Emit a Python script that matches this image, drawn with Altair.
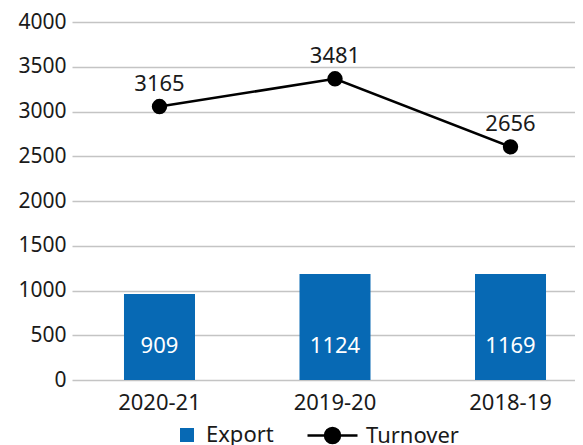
import altair as alt
import pandas as pd

periods = ["2020-21", "2019-20", "2018-19"]
export_values = [960, 1185, 1185]
export_labels = ["909", "1124", "1169"]
turnover_values = [3055, 3365, 2605]
turnover_labels = ["3165", "3481", "2656"]
y_ticks = [0, 500, 1000, 1500, 2000, 2500, 3000, 3500, 4000]

FONT = "Noto Sans"
BLUE = "#0769b4"
TXT = "#1a1a1a"

df = pd.DataFrame({
    "period": periods,
    "export": export_values,
    "export_label": export_labels,
    "turnover": turnover_values,
    "turnover_label": turnover_labels,
    "s_export": ["Export"] * 3,
    "s_turnover": ["Turnover"] * 3,
})

x = alt.X(
    "period:N",
    sort=periods,
    title=None,
    scale=alt.Scale(paddingInner=0.5954, paddingOuter=0.2307, align=0.642),
    axis=alt.Axis(labelAngle=0, ticks=False, domain=False, grid=False,
                  labelFont=FONT, labelFontSize=22, labelColor=TXT, labelPadding=12),
)
yscale = alt.Scale(domain=[0, 4000], nice=False)
yaxis = alt.Axis(values=y_ticks, format="d", ticks=False, domain=False, grid=True,
                 gridColor="#c4c4c4", gridWidth=1.5,
                 labelFont=FONT, labelFontSize=21, labelColor=TXT, labelPadding=6)

base = alt.Chart(df)

bars = base.mark_bar(color=BLUE).encode(
    x=x,
    y=alt.Y("export:Q", scale=yscale, axis=yaxis, title=None),
    fill=alt.Fill("s_export:N", scale=alt.Scale(domain=["Export"], range=[BLUE]),
                  legend=alt.Legend(title=None, orient="none", legendX=104, legendY=402,
                                    symbolType="square", symbolSize=196, symbolStrokeWidth=0,
                                    labelFont=FONT, labelFontSize=22, labelColor=TXT,
                                    labelOffset=8, padding=0)),
)

bar_text = base.mark_text(color="white", font=FONT, fontSize=22, baseline="middle", dy=-34).encode(
    x=x,
    y=alt.datum(0, scale=yscale),
    text="export_label:N",
)

line_symbol = "M-1,0L1,0M0.3,0A0.3,0.3,0,1,1,-0.3,0A0.3,0.3,0,1,1,0.3,0Z"
line = base.mark_line(
    strokeWidth=2.5,
    point=alt.OverlayMarkDef(filled=True, fill="black", stroke="black", size=180),
).encode(
    x=x,
    y=alt.Y("turnover:Q", scale=yscale, axis=yaxis, title=None),
    stroke=alt.Stroke("s_turnover:N", scale=alt.Scale(domain=["Turnover"], range=["black"]),
                      legend=alt.Legend(title=None, orient="none", legendX=234, legendY=387,
                                        symbolType=line_symbol, symbolSize=2500,
                                        symbolStrokeWidth=2.5, symbolFillColor="black",
                                        symbolStrokeColor="black",
                                        labelFont=FONT, labelFontSize=22, labelColor=TXT,
                                        labelOffset=7, padding=0)),
)

line_text = base.mark_text(color=TXT, font=FONT, fontSize=22, baseline="middle", dy=-23).encode(
    x=x,
    y=alt.Y("turnover:Q", scale=yscale),
    text="turnover_label:N",
)

chart = alt.layer(bars, bar_text, line, line_text).properties(
    width=503,
    height=358,
    autosize=alt.AutoSizeParams(type="none"),
    padding={"left": 64, "top": 14, "right": 0, "bottom": 68},
).configure_view(stroke=None)

chart.save("out.html", embed_options={"renderer": "svg", "actions": False})
